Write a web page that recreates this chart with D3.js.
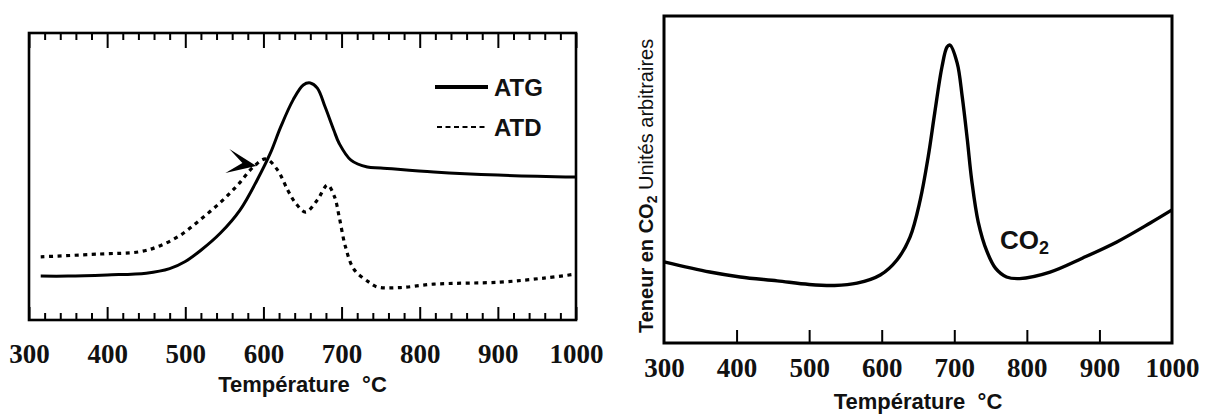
<!DOCTYPE html>
<html><head><meta charset="utf-8">
<script src="https://cdn.jsdelivr.net/npm/d3@7"></script>
<style>body{margin:0;background:#fff}svg{display:block}</style>
</head><body><svg id="c" width="1206" height="416"></svg>
<script>
// ---------- data ----------
const tickLabels = [300,400,500,600,700,800,900,1000];
const minorTicksL = [320,340,360,380,420,440,460,480,520,540,560,580,620,640,660,680,720,740,760,780,820,840,860,880,920,940,960,980];
const innerMajorR = [400,500,600,700,800,900];

const atgTemp = [315,350,400,450,480,500,520,545,570,592,609,622,638,651,660,669,679,690,697,712,733,750,818,900,1000];
const atgVal  = [15.3,15.3,15.7,16.3,17.9,20.4,24.3,30.3,38.3,48.8,58.2,67.2,76.7,81.9,82.6,80.8,74.2,66.2,61.5,55.7,53.3,53.0,51.6,50.5,49.8];

const atdTemp = [315,391,442,468,494,519,545,567,587,603,618,631,641,654,669,682,691,697,705,716,735,746,775,818,903,959,1000];
const atdVal  = [22.0,23.0,23.8,25.9,29.6,34.9,41.0,47.0,53.3,56.1,52.3,45.3,40.8,37.6,41.8,47.0,42.9,35.9,25.5,17.6,13.2,11.5,11.3,12.5,13.2,14.6,16.0];

const co2Temp = [300,363,405,456,500,535,566,598,621,639,653,664,673,683,690,694,704,711,718,724,733,745,757,772,790,832,877,924,970,1000];
const co2Val  = [24.8,21.7,20.2,19.0,17.9,17.6,18.3,20.8,25.4,32.4,43.7,56.9,70.3,84.4,90.5,91.1,85.6,75.2,62.1,49.8,37.0,28.0,22.8,20.2,19.7,21.7,26.0,30.9,36.7,40.7];

const legendNames = ["ATG","ATD"];
const arrowPoint = [591, 53.7];
const xTitle = "Température  °C";

// ---------- drawing ----------
const svg = d3.select("#c");
const SERIF = "'Liberation Serif','Times New Roman',serif";
const SANS = "'Liberation Sans',Arial,sans-serif";

const xL = d3.scaleLinear().domain([300,1000]).range([29,576]);
const yL = d3.scaleLinear().domain([0,100]).range([320,33]);
const xR = d3.scaleLinear().domain([300,1000]).range([664,1172]);
const yR = d3.scaleLinear().domain([0,100]).range([343,16]);

function styleAxis(g, fs){
  g.select(".domain").remove();
  g.selectAll(".tick line").attr("stroke","#000").attr("stroke-width",2);
  g.selectAll(".tick text").attr("font-family",SERIF).attr("font-weight","bold").attr("font-size",fs).attr("fill","#111");
}

// --- left chart ---
const L = svg.append("g");
L.append("g").attr("transform","translate(0,320)")
  .call(d3.axisBottom(xL).tickValues(minorTicksL).tickSize(-7).tickFormat(""))
  .call(g=>styleAxis(g,27));
L.append("g").attr("transform","translate(0,320)")
  .call(d3.axisBottom(xL).tickValues(tickLabels).tickSize(-13).tickPadding(24).tickFormat(d3.format("d")))
  .call(g=>styleAxis(g,27));
L.append("g").attr("transform","translate(0,33)")
  .call(d3.axisTop(xL).tickValues(minorTicksL).tickSize(-7).tickFormat(""))
  .call(g=>styleAxis(g,27));
L.append("g").attr("transform","translate(0,33)")
  .call(d3.axisTop(xL).tickValues(tickLabels).tickSize(-15).tickFormat(""))
  .call(g=>styleAxis(g,27));

const lineC = d3.line().curve(d3.curveCatmullRom.alpha(0.5));
L.append("path")
  .attr("d", lineC(atgTemp.map((t,i)=>[xL(t), yL(atgVal[i])])))
  .attr("fill","none").attr("stroke","#000").attr("stroke-width",3).attr("stroke-linejoin","round");
L.append("path")
  .attr("d", lineC(atdTemp.map((t,i)=>[xL(t), yL(atdVal[i])])))
  .attr("fill","none").attr("stroke","#000").attr("stroke-width",3.2).attr("stroke-dasharray","4,4.5");

L.append("rect").attr("x",xL(300)).attr("y",yL(100)).attr("width",xL(1000)-xL(300)).attr("height",yL(0)-yL(100))
  .attr("fill","none").attr("stroke","#000").attr("stroke-width",2.6);

// arrow
const ax = xL(arrowPoint[0]), ay = yL(arrowPoint[1]);
L.append("path")
  .attr("d", `M${ax},${ay} L${ax-27},${ay-17} L${ax-14},${ay-3} L${ax-31},${ay+7} Z`)
  .attr("fill","#000");

// legend
const lg = L.append("g");
lg.append("line").attr("x1",435).attr("x2",488).attr("y1",87).attr("y2",87).attr("stroke","#000").attr("stroke-width",4);
lg.append("line").attr("x1",437).attr("x2",488).attr("y1",127).attr("y2",127).attr("stroke","#000").attr("stroke-width",2).attr("stroke-dasharray","5,3.5");
lg.selectAll("text.lgt").data(legendNames).join("text").attr("class","lgt")
  .attr("x",494).attr("y",(d,i)=>[87,127][i]+8.5)
  .attr("font-family",SANS).attr("font-weight","bold").attr("font-size",24).attr("fill","#111")
  .text(d=>d);

L.append("text").attr("x",(xL(300)+xL(1000))/2).attr("y",392).attr("text-anchor","middle")
  .attr("xml:space","preserve").style("white-space","pre")
  .attr("font-family",SANS).attr("font-weight","bold").attr("font-size",22).attr("fill","#111").text(xTitle);

// --- right chart ---
const R = svg.append("g");
R.append("g").attr("transform","translate(0,343)")
  .call(d3.axisBottom(xR).tickValues(innerMajorR).tickSize(-13).tickFormat(""))
  .call(g=>styleAxis(g,27));
R.append("g").attr("transform","translate(0,343)")
  .call(d3.axisBottom(xR).tickValues(tickLabels).tickSize(0).tickPadding(15).tickFormat(d3.format("d")))
  .call(g=>styleAxis(g,27));

R.append("path")
  .attr("d", lineC(co2Temp.map((t,i)=>[xR(t), yR(co2Val[i])])))
  .attr("fill","none").attr("stroke","#000").attr("stroke-width",3.4).attr("stroke-linejoin","round");

R.append("rect").attr("x",xR(300)).attr("y",yR(100)).attr("width",xR(1000)-xR(300)).attr("height",yR(0)-yR(100))
  .attr("fill","none").attr("stroke","#000").attr("stroke-width",3);

const co2t = R.append("text").attr("x",1000).attr("y",249)
  .attr("font-family",SANS).attr("font-weight","bold").attr("font-size",26).attr("fill","#111");
co2t.append("tspan").text("CO");
co2t.append("tspan").attr("font-size",18).attr("dy",5).text("2");

const yt = R.append("text").attr("transform","translate(653,333) rotate(-90)")
  .attr("font-family",SANS).attr("font-size",20).attr("fill","#111");
yt.append("tspan").attr("font-weight","bold").text("Teneur en CO");
yt.append("tspan").attr("font-weight","bold").attr("font-size",14).attr("dy",4).text("2");
yt.append("tspan").attr("dy",-4).text(" Unités arbitraires");

R.append("text").attr("x",(xR(300)+xR(1000))/2).attr("y",409).attr("text-anchor","middle")
  .attr("xml:space","preserve").style("white-space","pre")
  .attr("font-family",SANS).attr("font-weight","bold").attr("font-size",22).attr("fill","#111").text(xTitle);
</script>
</body></html>
